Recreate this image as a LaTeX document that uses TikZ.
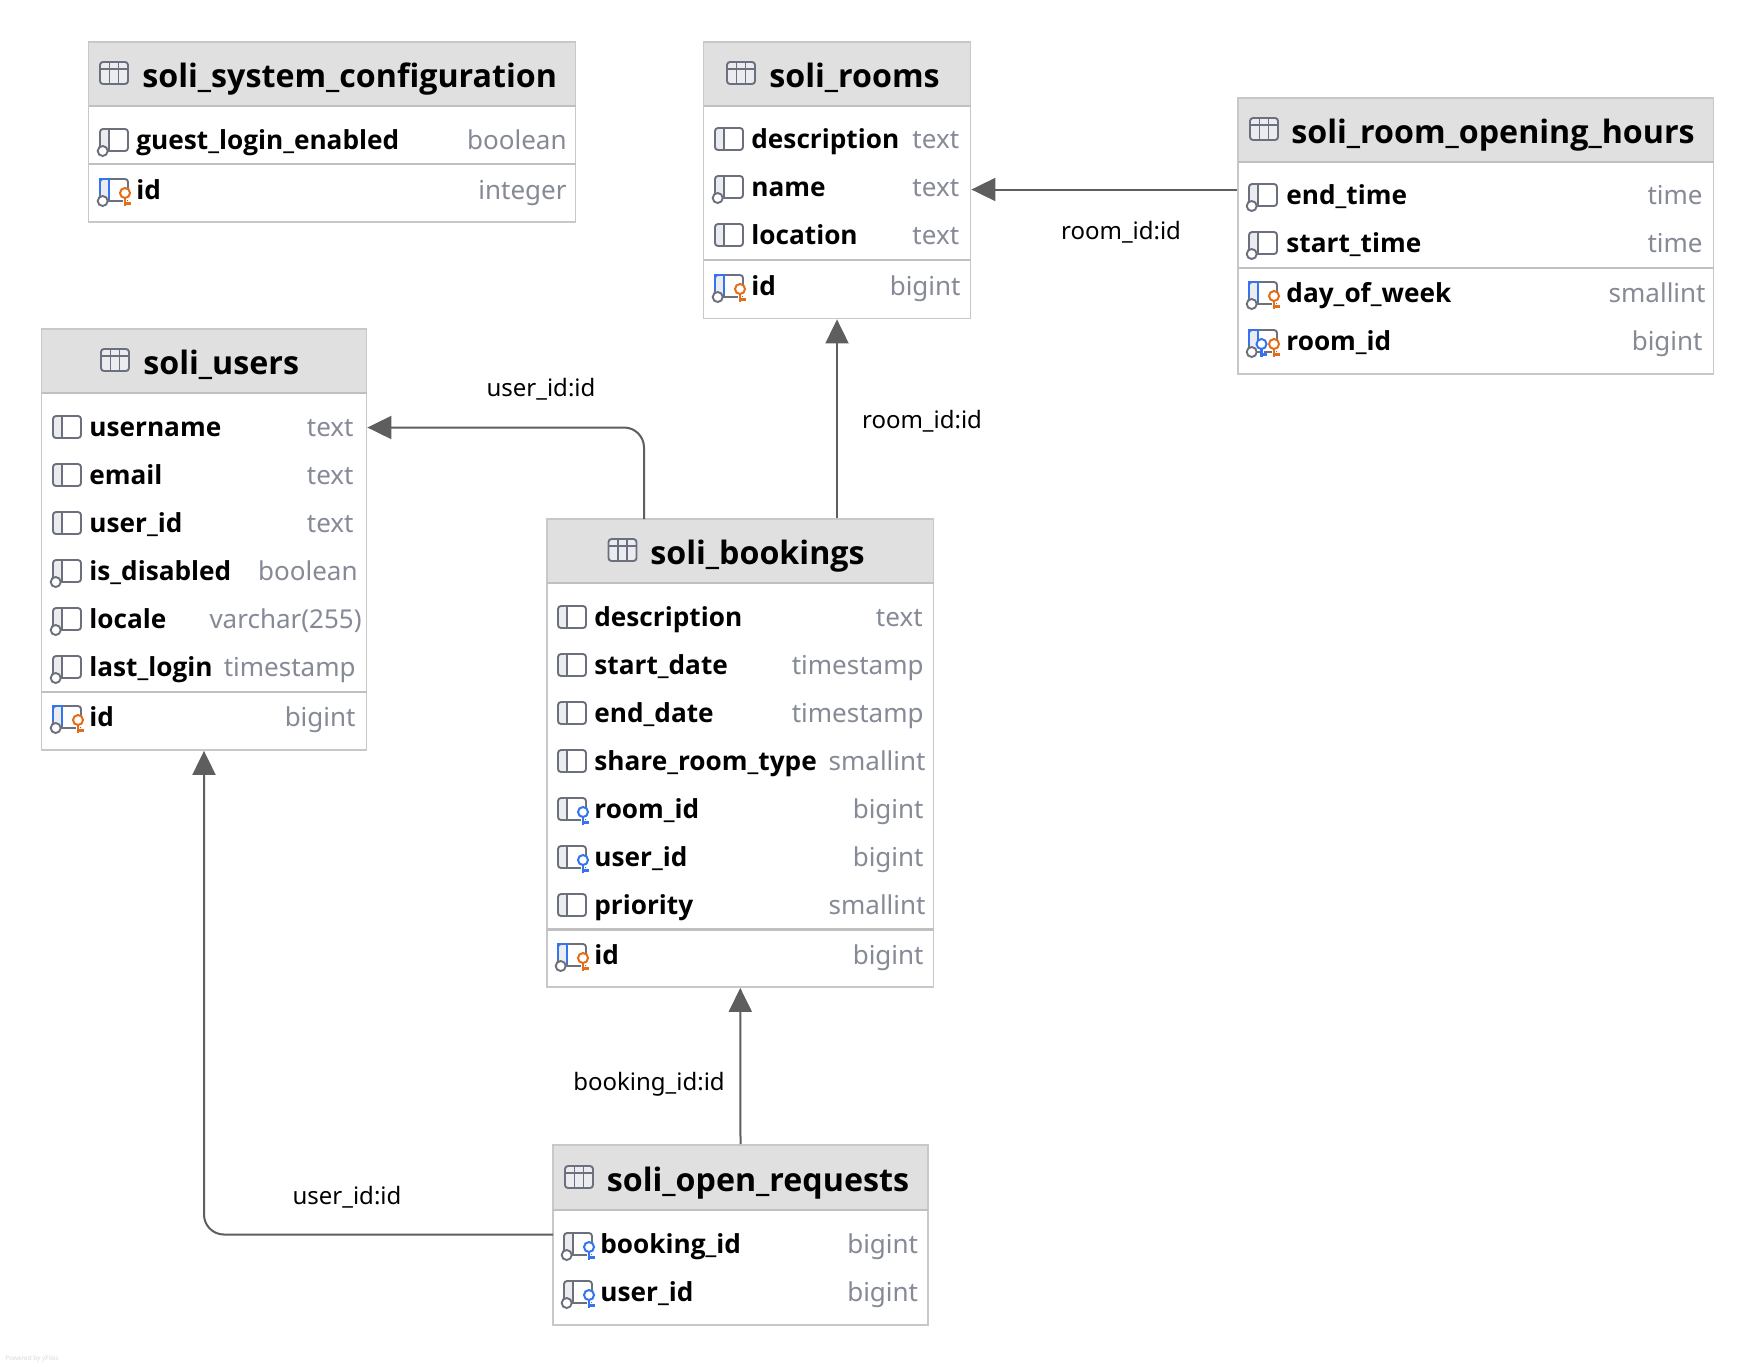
\documentclass[tikz,border=0pt]{standalone}
\usepackage{fontspec}
\setmainfont{Noto Sans}
\newfontfamily\boldfam{Open Sans}
\usetikzlibrary{arrows.meta,fit,calc}
\definecolor{headfill}{HTML}{E0E0E0}
\definecolor{tblborder}{HTML}{C8C8C8}
\definecolor{sepline}{HTML}{C0C0C0}
\definecolor{typegray}{HTML}{868A96}
\definecolor{icongray}{HTML}{6C707E}
\definecolor{iconfill}{HTML}{EBECF0}
\definecolor{keyblue}{HTML}{3574F0}
\definecolor{keyorange}{HTML}{E66D17}
\definecolor{linegray}{HTML}{5E5E5E}
\tikzset{
  x=0.5pt,y=-0.5pt,
  tablebox/.style={draw=tblborder,line width=0.9pt,inner sep=0pt,fill=none},
  titletext/.style={anchor=base west,inner sep=0pt,font=\boldfam\fontsize{16.1}{18}\selectfont\bfseries,text=black},
  nametext/.style={anchor=base west,inner sep=0pt,font=\boldfam\fontsize{13.1}{15}\selectfont\bfseries,text=black},
  typetext/.style={anchor=base east,inner sep=0pt,font=\fontsize{13}{15}\selectfont,text=typegray},
  edgelabel/.style={inner sep=0pt,font=\fontsize{12}{14}\selectfont,text=black},
  rel/.style={draw=linegray,line width=1pt,-{Triangle[length=12pt,width=11.5pt]}},
  iconline/.style={draw=icongray,line width=0.95pt},
}
\newcommand{\dbtable}[9]{%
  \fill[headfill] (#2,#3) rectangle (#4,#6);
  \node[tablebox,fit={(#2,#3)(#4,#5)}] (#1) {};
  \draw[sepline,line width=1.2pt] (#2,#6) -- (#4,#6);
  \begin{scope}[shift={(#7,#6-33)}]
    \fill[iconfill] (0,-11) rectangle (28,11);
    \draw[iconline,rounded corners=1.5pt] (0,-11) rectangle (28,11);
    \draw[iconline] (0,-4) -- (28,-4) (9.5,-11) -- (9.5,11) (18.5,-11) -- (18.5,11);
  \end{scope}
  \node[titletext] (#1-title) at (#8,#6-19) {#9};
}
\newcommand{\rowsep}[3]{\draw[sepline,line width=1.1pt] (#1,#3) -- (#2,#3);}
\newcommand{\iconbase}{%
  \fill[iconfill] (0,-11) rectangle (9,11);
  \draw[iconline,rounded corners=1.5pt] (0,-11) rectangle (28,11);
  \draw[iconline] (9,-11) -- (9,11);}
\newcommand{\iconnull}{\filldraw[iconline,fill=white] (2.7,11) circle (5);}
\newcommand{\iconblue}{\draw[keyblue,line width=1pt] (0.3,4) -- (0.3,-10.7) -- (9,-10.7) -- (9,8);}
\newcommand{\iconkey}[2]{%
  \draw[white,line width=2pt] (#2-5,8) -- (#2+5,8) (#2,-2) -- (#2,15);
  \filldraw[#1,fill=white,line width=1pt] (#2,3) circle (5);
  \draw[#1,line width=1.1pt] (#2,8) -- (#2,16) (#2,13.5) -- (#2+5.5,13.5);}
\newcommand{\kindP}{\iconbase}
\newcommand{\kindN}{\iconbase\iconnull}
\newcommand{\kindK}{\iconbase\iconblue\iconnull\iconkey{keyorange}{25}}
\newcommand{\kindF}{\iconbase\iconkey{keyblue}{25}}
\newcommand{\kindNF}{\iconbase\iconnull\iconkey{keyblue}{25}}
\newcommand{\kindPF}{\iconbase\iconblue\iconnull\iconkey{keyblue}{12.5}\iconkey{keyorange}{25}}
% id, y, iconx, textx, text, rightx, type, kind
\newcommand{\colrow}[8]{%
  \begin{scope}[shift={(#3,#2)}]\csname kind#8\endcsname\end{scope}
  \node[nametext] (#1) at (#4,#2+9) {#5};
  \node[typetext] (#1-type) at (#6,#2+9.5) {#7};
}
\begin{document}
\begin{tikzpicture}
\useasboundingbox (0,0) rectangle (1754,1366);
\fill[white] (0,0) rectangle (1754,1366);

% soli_system_configuration
\dbtable{sys}{88.5}{42}{575.5}{222}{106}{100}{142}{soli\_system\_configuration}
\colrow{sys-guest}{140}{100}{136}{guest\_login\_enabled}{567}{boolean}{N}
\rowsep{88.5}{575.5}{164}
\colrow{sys-id}{190}{100}{136}{id}{567}{integer}{K}

% soli_rooms
\dbtable{rooms}{703.5}{42}{970.5}{318.5}{106}{727}{769}{soli\_rooms}
\colrow{rooms-desc}{139}{715}{751}{description}{959.5}{text}{P}
\colrow{rooms-name}{187}{715}{751}{name}{959.5}{text}{N}
\colrow{rooms-loc}{235}{715}{751}{location}{959.5}{text}{P}
\rowsep{703.5}{970.5}{260}
\colrow{rooms-id}{286}{715}{751}{id}{961}{bigint}{K}

% soli_room_opening_hours
\dbtable{hours}{1238}{98}{1713.5}{374}{162}{1250}{1291}{soli\_room\_opening\_hours}
\colrow{hours-end}{195}{1249}{1286}{end\_time}{1703}{time}{N}
\colrow{hours-start}{243}{1249}{1286}{start\_time}{1703}{time}{N}
\rowsep{1238}{1713.5}{268}
\colrow{hours-day}{293}{1249}{1286}{day\_of\_week}{1706}{smallint}{K}
\colrow{hours-room}{341}{1249}{1286}{room\_id}{1703}{bigint}{PF}

% soli_users
\dbtable{users}{41.5}{329}{366.5}{750}{393}{101}{143}{soli\_users}
\colrow{users-username}{427}{53}{89}{username}{354}{text}{P}
\colrow{users-email}{475}{53}{89}{email}{354}{text}{P}
\colrow{users-userid}{523}{53}{89}{user\_id}{354}{text}{P}
\colrow{users-disabled}{571}{53}{89}{is\_disabled}{358}{boolean}{N}
\colrow{users-locale}{619}{53}{89}{locale}{362}{varchar(255)}{N}
\colrow{users-last}{667}{53}{89}{last\_login}{356}{timestamp}{N}
\rowsep{41.5}{366.5}{692}
\colrow{users-id}{717}{53}{89}{id}{356}{bigint}{K}

% soli_bookings
\dbtable{bookings}{547}{519}{933.5}{987}{583}{608.5}{650}{soli\_bookings}
\colrow{book-desc}{617}{558}{594}{description}{923}{text}{P}
\colrow{book-start}{665}{558}{594}{start\_date}{924}{timestamp}{P}
\colrow{book-end}{713}{558}{594}{end\_date}{924}{timestamp}{P}
\colrow{book-share}{761}{558}{594}{share\_room\_type}{926}{smallint}{P}
\colrow{book-room}{809}{558}{594}{room\_id}{924}{bigint}{F}
\colrow{book-user}{857}{558}{594}{user\_id}{924}{bigint}{F}
\colrow{book-prio}{905}{558}{594}{priority}{926}{smallint}{P}
\rowsep{547}{933.5}{929.5}
\colrow{book-id}{955}{558}{594}{id}{924}{bigint}{K}

% soli_open_requests
\dbtable{open}{553}{1145}{928}{1325}{1210}{565}{606.5}{soli\_open\_requests}
\colrow{open-booking}{1244}{564}{600}{booking\_id}{918.5}{bigint}{NF}
\colrow{open-user}{1292}{564}{600}{user\_id}{918.5}{bigint}{NF}

% connectors
\coordinate (bookuserout) at (644,519);
\coordinate (openuserout) at (553,1234.5);
\coordinate (roomsin) at (970,189.5);
\coordinate (usersin) at (366.5,427.5);
\draw[rel] (hours.west |- roomsin) -- (rooms.east |- roomsin);
\draw[rel] (bookings.north -| rooms.south) -- (rooms.south);
\draw[rel,rounded corners=10pt] (bookuserout) |- (users.east |- usersin);
\draw[rel] (open.north) -- (bookings.south);
\draw[rel,rounded corners=10pt] (openuserout) -| (users.south);

% connector labels
\node[edgelabel] (l1) at (1121,232) {room\_id:id};
\node[edgelabel] (l2) at (922,421.5) {room\_id:id};
\node[edgelabel] (l3) at (541,389.5) {user\_id:id};
\node[edgelabel] (l4) at (649,1084) {booking\_id:id};
\node[edgelabel] (l5) at (347,1197.5) {user\_id:id};

\node[anchor=base west,inner sep=0pt,text=black!15,font=\fontsize{3.2}{4}\selectfont] (powered) at (5,1360) {Powered by yFiles};
\end{tikzpicture}
\end{document}
